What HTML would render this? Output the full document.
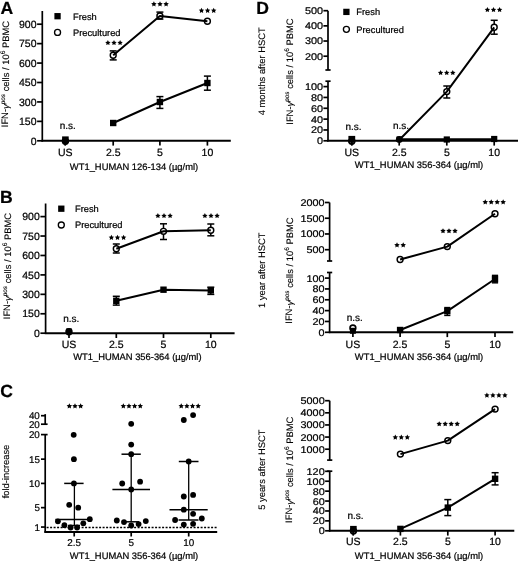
<!DOCTYPE html>
<html><head><meta charset="utf-8"><title>figure</title>
<style>
html,body{margin:0;padding:0;background:#fff;}
svg{display:block;will-change:transform;}
svg text{font-family:"Liberation Sans", sans-serif;fill:#000;text-rendering:geometricPrecision;}
text.rot{stroke-width:0.12px;}
</style></head><body>
<svg width="520" height="562" viewBox="0 0 520 562" stroke="#000" stroke-linecap="butt">
<g stroke="none">
</g>
<text stroke="#000" stroke-width="0.22" x="0.60" y="13.50" font-size="17.6" text-anchor="start" font-weight="bold" >A</text>
<line x1="42.30" y1="11.00" x2="42.30" y2="141.60" stroke-width="1.7" />
<line x1="41.50" y1="140.80" x2="230.80" y2="140.80" stroke-width="2.0" />
<line x1="37.10" y1="140.80" x2="42.30" y2="140.80" stroke-width="1.7" />
<text stroke="#000" stroke-width="0.22" x="36.50" y="144.50" font-size="10.5" text-anchor="end" font-weight="normal" >0</text>
<line x1="37.10" y1="121.37" x2="42.30" y2="121.37" stroke-width="1.7" />
<text stroke="#000" stroke-width="0.22" x="36.50" y="125.07" font-size="10.5" text-anchor="end" font-weight="normal" >150</text>
<line x1="37.10" y1="101.93" x2="42.30" y2="101.93" stroke-width="1.7" />
<text stroke="#000" stroke-width="0.22" x="36.50" y="105.63" font-size="10.5" text-anchor="end" font-weight="normal" >300</text>
<line x1="37.10" y1="82.50" x2="42.30" y2="82.50" stroke-width="1.7" />
<text stroke="#000" stroke-width="0.22" x="36.50" y="86.20" font-size="10.5" text-anchor="end" font-weight="normal" >450</text>
<line x1="37.10" y1="63.07" x2="42.30" y2="63.07" stroke-width="1.7" />
<text stroke="#000" stroke-width="0.22" x="36.50" y="66.77" font-size="10.5" text-anchor="end" font-weight="normal" >600</text>
<line x1="37.10" y1="43.63" x2="42.30" y2="43.63" stroke-width="1.7" />
<text stroke="#000" stroke-width="0.22" x="36.50" y="47.33" font-size="10.5" text-anchor="end" font-weight="normal" >750</text>
<line x1="37.10" y1="24.20" x2="42.30" y2="24.20" stroke-width="1.7" />
<text stroke="#000" stroke-width="0.22" x="36.50" y="27.90" font-size="10.5" text-anchor="end" font-weight="normal" >900</text>
<line x1="65.20" y1="140.80" x2="65.20" y2="145.60" stroke-width="1.7" />
<text stroke="#000" stroke-width="0.22" x="65.20" y="155.80" font-size="10.5" text-anchor="middle" font-weight="normal" >US</text>
<line x1="113.20" y1="140.80" x2="113.20" y2="145.60" stroke-width="1.7" />
<text stroke="#000" stroke-width="0.22" x="113.20" y="155.80" font-size="10.5" text-anchor="middle" font-weight="normal" >2.5</text>
<line x1="159.90" y1="140.80" x2="159.90" y2="145.60" stroke-width="1.7" />
<text stroke="#000" stroke-width="0.22" x="159.90" y="155.80" font-size="10.5" text-anchor="middle" font-weight="normal" >5</text>
<line x1="207.40" y1="140.80" x2="207.40" y2="145.60" stroke-width="1.7" />
<text stroke="#000" stroke-width="0.22" x="207.40" y="155.80" font-size="10.5" text-anchor="middle" font-weight="normal" >10</text>
<text stroke="#000" stroke-width="0.22" x="134.05" y="170.30" font-size="9.4" text-anchor="middle" font-weight="normal" >WT1_HUMAN 126-134 (µg/ml)</text>
<text stroke="#000" stroke-width="0.22" class="rot" transform="translate(4.75,74.10) rotate(-90)" font-size="9.4" text-anchor="middle" dominant-baseline="central">IFN-<tspan font-style="italic">γ</tspan><tspan font-size="6.4" dy="-1.8" font-style="italic">pos</tspan><tspan dy="1.8"> cells / 10</tspan><tspan font-size="6.6" dy="-1.7">6</tspan><tspan dy="1.7"> PBMC</tspan></text>
<rect x="54.40" y="13.05" width="6.3" height="6.3" fill="#000" stroke="none"/>
<text stroke="#000" stroke-width="0.22" x="73.00" y="19.60" font-size="9.3" text-anchor="start" font-weight="normal" >Fresh</text>
<circle cx="57.55" cy="32.40" r="3.0" fill="none" stroke="#000" stroke-width="1.35"/>
<text stroke="#000" stroke-width="0.22" x="73.00" y="35.80" font-size="9.3" text-anchor="start" font-weight="normal" >Precultured</text>
<line x1="159.90" y1="96.60" x2="159.90" y2="108.40" stroke-width="1.5" />
<line x1="156.40" y1="96.60" x2="163.40" y2="96.60" stroke-width="1.5" />
<line x1="156.40" y1="108.40" x2="163.40" y2="108.40" stroke-width="1.5" />
<line x1="207.40" y1="76.10" x2="207.40" y2="90.20" stroke-width="1.5" />
<line x1="203.90" y1="76.10" x2="210.90" y2="76.10" stroke-width="1.5" />
<line x1="203.90" y1="90.20" x2="210.90" y2="90.20" stroke-width="1.5" />
<polyline points="113.20,123.00 159.90,102.00 207.40,83.00" fill="none" stroke-width="2.0" stroke-linejoin="round"/>
<rect x="110.00" y="119.80" width="6.4" height="6.4" fill="#000" stroke="none"/>
<rect x="156.70" y="98.80" width="6.4" height="6.4" fill="#000" stroke="none"/>
<rect x="204.20" y="79.80" width="6.4" height="6.4" fill="#000" stroke="none"/>
<line x1="113.20" y1="50.90" x2="113.20" y2="52.40" stroke-width="1.5" />
<line x1="113.20" y1="58.00" x2="113.20" y2="59.90" stroke-width="1.5" />
<line x1="109.70" y1="50.90" x2="116.70" y2="50.90" stroke-width="1.5" />
<line x1="109.70" y1="59.90" x2="116.70" y2="59.90" stroke-width="1.5" />
<line x1="159.90" y1="12.10" x2="159.90" y2="13.10" stroke-width="1.5" />
<line x1="159.90" y1="18.70" x2="159.90" y2="19.10" stroke-width="1.5" />
<line x1="156.40" y1="12.10" x2="163.40" y2="12.10" stroke-width="1.5" />
<line x1="156.40" y1="19.10" x2="163.40" y2="19.10" stroke-width="1.5" />
<polyline points="113.20,55.20 159.90,15.90 207.40,21.20" fill="none" stroke-width="2.0" stroke-linejoin="round"/>
<circle cx="113.20" cy="55.20" r="2.95" fill="none" stroke="#000" stroke-width="1.45"/>
<circle cx="159.90" cy="15.90" r="2.95" fill="none" stroke="#000" stroke-width="1.45"/>
<circle cx="207.40" cy="21.20" r="2.95" fill="none" stroke="#000" stroke-width="1.45"/>
<polygon points="107.90,39.95 108.74,41.65 110.61,41.92 109.26,43.24 109.58,45.11 107.90,44.22 106.22,45.11 106.54,43.24 105.19,41.92 107.06,41.65" fill="#000" stroke="none"/>
<polygon points="114.00,39.95 114.84,41.65 116.71,41.92 115.36,43.24 115.68,45.11 114.00,44.22 112.32,45.11 112.64,43.24 111.29,41.92 113.16,41.65" fill="#000" stroke="none"/>
<polygon points="120.10,39.95 120.94,41.65 122.81,41.92 121.46,43.24 121.78,45.11 120.10,44.22 118.42,45.11 118.74,43.24 117.39,41.92 119.26,41.65" fill="#000" stroke="none"/>
<polygon points="153.90,1.35 154.74,3.05 156.61,3.32 155.26,4.64 155.58,6.51 153.90,5.62 152.22,6.51 152.54,4.64 151.19,3.32 153.06,3.05" fill="#000" stroke="none"/>
<polygon points="160.00,1.35 160.84,3.05 162.71,3.32 161.36,4.64 161.68,6.51 160.00,5.62 158.32,6.51 158.64,4.64 157.29,3.32 159.16,3.05" fill="#000" stroke="none"/>
<polygon points="166.10,1.35 166.94,3.05 168.81,3.32 167.46,4.64 167.78,6.51 166.10,5.62 164.42,6.51 164.74,4.64 163.39,3.32 165.26,3.05" fill="#000" stroke="none"/>
<polygon points="201.50,7.75 202.34,9.45 204.21,9.72 202.86,11.04 203.18,12.91 201.50,12.03 199.82,12.91 200.14,11.04 198.79,9.72 200.66,9.45" fill="#000" stroke="none"/>
<polygon points="207.60,7.75 208.44,9.45 210.31,9.72 208.96,11.04 209.28,12.91 207.60,12.03 205.92,12.91 206.24,11.04 204.89,9.72 206.76,9.45" fill="#000" stroke="none"/>
<polygon points="213.70,7.75 214.54,9.45 216.41,9.72 215.06,11.04 215.38,12.91 213.70,12.03 212.02,12.91 212.34,11.04 210.99,9.72 212.86,9.45" fill="#000" stroke="none"/>
<text stroke="#000" stroke-width="0.22" x="67.70" y="129.40" font-size="10" text-anchor="middle" font-weight="normal" >n.s.</text>
<rect x="62.10" y="136.40" width="6.6" height="6.6" fill="#000" stroke="none"/>
<circle cx="65.40" cy="141.20" r="2.9" fill="none" stroke="#000" stroke-width="1.6"/>
<line x1="65.40" y1="140.00" x2="65.40" y2="145.20" stroke-width="1.6" />
<text stroke="#000" stroke-width="0.22" x="0.10" y="202.90" font-size="17.6" text-anchor="start" font-weight="bold" >B</text>
<line x1="45.60" y1="203.50" x2="45.60" y2="334.00" stroke-width="1.7" />
<line x1="44.80" y1="333.20" x2="234.60" y2="333.20" stroke-width="2.0" />
<line x1="40.40" y1="333.20" x2="45.60" y2="333.20" stroke-width="1.7" />
<text stroke="#000" stroke-width="0.22" x="39.80" y="336.90" font-size="10.5" text-anchor="end" font-weight="normal" >0</text>
<line x1="40.40" y1="313.77" x2="45.60" y2="313.77" stroke-width="1.7" />
<text stroke="#000" stroke-width="0.22" x="39.80" y="317.47" font-size="10.5" text-anchor="end" font-weight="normal" >150</text>
<line x1="40.40" y1="294.33" x2="45.60" y2="294.33" stroke-width="1.7" />
<text stroke="#000" stroke-width="0.22" x="39.80" y="298.03" font-size="10.5" text-anchor="end" font-weight="normal" >300</text>
<line x1="40.40" y1="274.90" x2="45.60" y2="274.90" stroke-width="1.7" />
<text stroke="#000" stroke-width="0.22" x="39.80" y="278.60" font-size="10.5" text-anchor="end" font-weight="normal" >450</text>
<line x1="40.40" y1="255.47" x2="45.60" y2="255.47" stroke-width="1.7" />
<text stroke="#000" stroke-width="0.22" x="39.80" y="259.17" font-size="10.5" text-anchor="end" font-weight="normal" >600</text>
<line x1="40.40" y1="236.03" x2="45.60" y2="236.03" stroke-width="1.7" />
<text stroke="#000" stroke-width="0.22" x="39.80" y="239.73" font-size="10.5" text-anchor="end" font-weight="normal" >750</text>
<line x1="40.40" y1="216.60" x2="45.60" y2="216.60" stroke-width="1.7" />
<text stroke="#000" stroke-width="0.22" x="39.80" y="220.30" font-size="10.5" text-anchor="end" font-weight="normal" >900</text>
<line x1="69.00" y1="333.20" x2="69.00" y2="338.00" stroke-width="1.7" />
<text stroke="#000" stroke-width="0.22" x="69.00" y="347.60" font-size="10.5" text-anchor="middle" font-weight="normal" >US</text>
<line x1="116.30" y1="333.20" x2="116.30" y2="338.00" stroke-width="1.7" />
<text stroke="#000" stroke-width="0.22" x="116.30" y="347.60" font-size="10.5" text-anchor="middle" font-weight="normal" >2.5</text>
<line x1="163.50" y1="333.20" x2="163.50" y2="338.00" stroke-width="1.7" />
<text stroke="#000" stroke-width="0.22" x="163.50" y="347.60" font-size="10.5" text-anchor="middle" font-weight="normal" >5</text>
<line x1="210.80" y1="333.20" x2="210.80" y2="338.00" stroke-width="1.7" />
<text stroke="#000" stroke-width="0.22" x="210.80" y="347.60" font-size="10.5" text-anchor="middle" font-weight="normal" >10</text>
<text stroke="#000" stroke-width="0.22" x="137.35" y="359.80" font-size="9.4" text-anchor="middle" font-weight="normal" >WT1_HUMAN 356-364 (µg/ml)</text>
<text stroke="#000" stroke-width="0.22" class="rot" transform="translate(6.90,266.10) rotate(-90)" font-size="9.4" text-anchor="middle" dominant-baseline="central">IFN-<tspan font-style="italic">γ</tspan><tspan font-size="6.4" dy="-1.8" font-style="italic">pos</tspan><tspan dy="1.8"> cells / 10</tspan><tspan font-size="6.6" dy="-1.7">6</tspan><tspan dy="1.7"> PBMC</tspan></text>
<rect x="58.15" y="205.55" width="6.3" height="6.3" fill="#000" stroke="none"/>
<text stroke="#000" stroke-width="0.22" x="75.00" y="212.10" font-size="9.3" text-anchor="start" font-weight="normal" >Fresh</text>
<circle cx="61.30" cy="225.00" r="3.0" fill="none" stroke="#000" stroke-width="1.35"/>
<text stroke="#000" stroke-width="0.22" x="75.00" y="228.40" font-size="9.3" text-anchor="start" font-weight="normal" >Precultured</text>
<line x1="116.30" y1="296.30" x2="116.30" y2="305.10" stroke-width="1.5" />
<line x1="112.80" y1="296.30" x2="119.80" y2="296.30" stroke-width="1.5" />
<line x1="112.80" y1="305.10" x2="119.80" y2="305.10" stroke-width="1.5" />
<line x1="210.80" y1="287.20" x2="210.80" y2="294.40" stroke-width="1.5" />
<line x1="207.30" y1="287.20" x2="214.30" y2="287.20" stroke-width="1.5" />
<line x1="207.30" y1="294.40" x2="214.30" y2="294.40" stroke-width="1.5" />
<polyline points="116.30,300.80 163.50,289.70 210.80,290.40" fill="none" stroke-width="2.0" stroke-linejoin="round"/>
<rect x="113.10" y="297.60" width="6.4" height="6.4" fill="#000" stroke="none"/>
<rect x="160.30" y="286.50" width="6.4" height="6.4" fill="#000" stroke="none"/>
<rect x="207.60" y="287.20" width="6.4" height="6.4" fill="#000" stroke="none"/>
<line x1="116.30" y1="244.00" x2="116.30" y2="245.90" stroke-width="1.5" />
<line x1="116.30" y1="251.50" x2="116.30" y2="253.00" stroke-width="1.5" />
<line x1="112.80" y1="244.00" x2="119.80" y2="244.00" stroke-width="1.5" />
<line x1="112.80" y1="253.00" x2="119.80" y2="253.00" stroke-width="1.5" />
<line x1="163.50" y1="223.80" x2="163.50" y2="228.50" stroke-width="1.5" />
<line x1="163.50" y1="234.10" x2="163.50" y2="239.50" stroke-width="1.5" />
<line x1="160.00" y1="223.80" x2="167.00" y2="223.80" stroke-width="1.5" />
<line x1="160.00" y1="239.50" x2="167.00" y2="239.50" stroke-width="1.5" />
<line x1="210.80" y1="224.00" x2="210.80" y2="227.40" stroke-width="1.5" />
<line x1="210.80" y1="233.00" x2="210.80" y2="235.80" stroke-width="1.5" />
<line x1="207.30" y1="224.00" x2="214.30" y2="224.00" stroke-width="1.5" />
<line x1="207.30" y1="235.80" x2="214.30" y2="235.80" stroke-width="1.5" />
<polyline points="116.30,248.70 163.50,231.30 210.80,230.20" fill="none" stroke-width="2.0" stroke-linejoin="round"/>
<circle cx="116.30" cy="248.70" r="2.95" fill="none" stroke="#000" stroke-width="1.45"/>
<circle cx="163.50" cy="231.30" r="2.95" fill="none" stroke="#000" stroke-width="1.45"/>
<circle cx="210.80" cy="230.20" r="2.95" fill="none" stroke="#000" stroke-width="1.45"/>
<polygon points="111.40,234.75 112.24,236.45 114.11,236.72 112.76,238.04 113.08,239.91 111.40,239.03 109.72,239.91 110.04,238.04 108.69,236.72 110.56,236.45" fill="#000" stroke="none"/>
<polygon points="117.50,234.75 118.34,236.45 120.21,236.72 118.86,238.04 119.18,239.91 117.50,239.03 115.82,239.91 116.14,238.04 114.79,236.72 116.66,236.45" fill="#000" stroke="none"/>
<polygon points="123.60,234.75 124.44,236.45 126.31,236.72 124.96,238.04 125.28,239.91 123.60,239.03 121.92,239.91 122.24,238.04 120.89,236.72 122.76,236.45" fill="#000" stroke="none"/>
<polygon points="157.90,212.95 158.74,214.65 160.61,214.92 159.26,216.24 159.58,218.11 157.90,217.23 156.22,218.11 156.54,216.24 155.19,214.92 157.06,214.65" fill="#000" stroke="none"/>
<polygon points="164.00,212.95 164.84,214.65 166.71,214.92 165.36,216.24 165.68,218.11 164.00,217.23 162.32,218.11 162.64,216.24 161.29,214.92 163.16,214.65" fill="#000" stroke="none"/>
<polygon points="170.10,212.95 170.94,214.65 172.81,214.92 171.46,216.24 171.78,218.11 170.10,217.23 168.42,218.11 168.74,216.24 167.39,214.92 169.26,214.65" fill="#000" stroke="none"/>
<polygon points="204.90,212.95 205.74,214.65 207.61,214.92 206.26,216.24 206.58,218.11 204.90,217.23 203.22,218.11 203.54,216.24 202.19,214.92 204.06,214.65" fill="#000" stroke="none"/>
<polygon points="211.00,212.95 211.84,214.65 213.71,214.92 212.36,216.24 212.68,218.11 211.00,217.23 209.32,218.11 209.64,216.24 208.29,214.92 210.16,214.65" fill="#000" stroke="none"/>
<polygon points="217.10,212.95 217.94,214.65 219.81,214.92 218.46,216.24 218.78,218.11 217.10,217.23 215.42,218.11 215.74,216.24 214.39,214.92 216.26,214.65" fill="#000" stroke="none"/>
<text stroke="#000" stroke-width="0.22" x="71.20" y="321.60" font-size="10" text-anchor="middle" font-weight="normal" >n.s.</text>
<rect x="66.20" y="328.40" width="5.6" height="5.6" fill="#000" stroke="none"/>
<circle cx="69.00" cy="331.80" r="3.7" fill="#000" stroke="none"/>
<text stroke="#000" stroke-width="0.22" x="0.30" y="396.60" font-size="17.6" text-anchor="start" font-weight="bold" >C</text>
<line x1="45.20" y1="414.10" x2="45.20" y2="424.50" stroke-width="1.7" />
<line x1="41.00" y1="415.70" x2="45.20" y2="415.70" stroke-width="1.7" />
<line x1="41.00" y1="424.20" x2="47.60" y2="424.20" stroke-width="1.7" />
<text stroke="#000" stroke-width="0.22" x="39.80" y="419.00" font-size="9.8" text-anchor="end" font-weight="normal" >40</text>
<text stroke="#000" stroke-width="0.22" x="39.80" y="427.60" font-size="9.8" text-anchor="end" font-weight="normal" >20</text>
<line x1="45.20" y1="434.60" x2="45.20" y2="532.70" stroke-width="1.7" />
<line x1="41.00" y1="434.60" x2="47.60" y2="434.60" stroke-width="1.7" />
<text stroke="#000" stroke-width="0.22" x="39.80" y="437.80" font-size="9.8" text-anchor="end" font-weight="normal" >20</text>
<line x1="41.00" y1="459.15" x2="45.20" y2="459.15" stroke-width="1.7" />
<text stroke="#000" stroke-width="0.22" x="39.90" y="462.70" font-size="9.8" text-anchor="end" font-weight="normal" >15</text>
<line x1="41.00" y1="483.40" x2="45.20" y2="483.40" stroke-width="1.7" />
<text stroke="#000" stroke-width="0.22" x="39.90" y="486.95" font-size="9.8" text-anchor="end" font-weight="normal" >10</text>
<line x1="41.00" y1="507.65" x2="45.20" y2="507.65" stroke-width="1.7" />
<text stroke="#000" stroke-width="0.22" x="39.90" y="511.20" font-size="9.8" text-anchor="end" font-weight="normal" >5</text>
<line x1="41.00" y1="527.05" x2="45.20" y2="527.05" stroke-width="1.7" />
<text stroke="#000" stroke-width="0.22" x="39.90" y="530.60" font-size="9.8" text-anchor="end" font-weight="normal" >1</text>
<line x1="44.40" y1="531.90" x2="217.20" y2="531.90" stroke-width="2.0" />
<line x1="46.20" y1="527.5" x2="217.2" y2="527.5" stroke-width="1.35" stroke-dasharray="2.0,1.5" stroke-dashoffset="-0.4"/>
<line x1="74.20" y1="531.90" x2="74.20" y2="536.50" stroke-width="1.7" />
<text stroke="#000" stroke-width="0.22" x="74.20" y="545.70" font-size="9.9" text-anchor="middle" font-weight="normal" >2.5</text>
<line x1="131.20" y1="531.90" x2="131.20" y2="536.50" stroke-width="1.7" />
<text stroke="#000" stroke-width="0.22" x="131.20" y="545.70" font-size="9.9" text-anchor="middle" font-weight="normal" >5</text>
<line x1="188.70" y1="531.90" x2="188.70" y2="536.50" stroke-width="1.7" />
<text stroke="#000" stroke-width="0.22" x="188.70" y="545.70" font-size="9.9" text-anchor="middle" font-weight="normal" >10</text>
<text stroke="#000" stroke-width="0.22" x="134.05" y="558.90" font-size="9.4" text-anchor="middle" font-weight="normal" >WT1_HUMAN 356-364 (µg/ml)</text>
<text stroke="#000" stroke-width="0.22" class="rot" transform="translate(5.25,471.5) rotate(-90)" font-size="9.4" text-anchor="middle" dominant-baseline="central">fold-increase</text>
<line x1="74.40" y1="483.40" x2="74.40" y2="525.50" stroke-width="1.3" />
<line x1="64.20" y1="483.40" x2="83.60" y2="483.40" stroke-width="1.5" />
<line x1="55.40" y1="519.50" x2="91.00" y2="519.50" stroke-width="1.5" />
<line x1="68.00" y1="525.50" x2="80.00" y2="525.50" stroke-width="1.5" />
<circle cx="73.70" cy="434.80" r="2.9" fill="#000" stroke="none"/>
<circle cx="73.90" cy="459.20" r="2.9" fill="#000" stroke="none"/>
<circle cx="73.90" cy="483.40" r="2.9" fill="#000" stroke="none"/>
<circle cx="69.20" cy="504.80" r="2.9" fill="#000" stroke="none"/>
<circle cx="78.20" cy="507.70" r="2.9" fill="#000" stroke="none"/>
<circle cx="57.90" cy="521.30" r="2.9" fill="#000" stroke="none"/>
<circle cx="89.80" cy="519.20" r="2.9" fill="#000" stroke="none"/>
<circle cx="64.40" cy="525.20" r="2.9" fill="#000" stroke="none"/>
<circle cx="70.60" cy="527.50" r="2.9" fill="#000" stroke="none"/>
<circle cx="77.10" cy="527.50" r="2.9" fill="#000" stroke="none"/>
<circle cx="83.30" cy="523.30" r="2.9" fill="#000" stroke="none"/>
<line x1="131.20" y1="454.20" x2="131.20" y2="521.80" stroke-width="1.3" />
<line x1="121.50" y1="454.20" x2="140.80" y2="454.20" stroke-width="1.5" />
<line x1="112.40" y1="489.50" x2="150.00" y2="489.50" stroke-width="1.5" />
<line x1="125.00" y1="521.80" x2="139.00" y2="521.80" stroke-width="1.5" />
<circle cx="131.20" cy="423.80" r="2.9" fill="#000" stroke="none"/>
<circle cx="131.20" cy="444.60" r="2.9" fill="#000" stroke="none"/>
<circle cx="131.20" cy="454.20" r="2.9" fill="#000" stroke="none"/>
<circle cx="122.20" cy="483.50" r="2.9" fill="#000" stroke="none"/>
<circle cx="140.10" cy="481.70" r="2.9" fill="#000" stroke="none"/>
<circle cx="131.20" cy="489.50" r="2.9" fill="#000" stroke="none"/>
<circle cx="116.80" cy="520.50" r="2.9" fill="#000" stroke="none"/>
<circle cx="124.00" cy="522.10" r="2.9" fill="#000" stroke="none"/>
<circle cx="131.20" cy="525.50" r="2.9" fill="#000" stroke="none"/>
<circle cx="138.60" cy="524.10" r="2.9" fill="#000" stroke="none"/>
<circle cx="145.80" cy="521.10" r="2.9" fill="#000" stroke="none"/>
<line x1="188.70" y1="461.50" x2="188.70" y2="520.00" stroke-width="1.3" />
<line x1="178.80" y1="461.50" x2="198.50" y2="461.50" stroke-width="1.5" />
<line x1="169.50" y1="509.70" x2="207.70" y2="509.70" stroke-width="1.5" />
<line x1="178.50" y1="520.00" x2="198.50" y2="520.00" stroke-width="1.5" />
<circle cx="183.80" cy="420.00" r="2.9" fill="#000" stroke="none"/>
<circle cx="193.10" cy="415.10" r="2.9" fill="#000" stroke="none"/>
<circle cx="188.70" cy="461.50" r="2.9" fill="#000" stroke="none"/>
<circle cx="183.80" cy="496.50" r="2.9" fill="#000" stroke="none"/>
<circle cx="193.10" cy="494.90" r="2.9" fill="#000" stroke="none"/>
<circle cx="183.80" cy="509.70" r="2.9" fill="#000" stroke="none"/>
<circle cx="193.10" cy="513.80" r="2.9" fill="#000" stroke="none"/>
<circle cx="175.10" cy="520.00" r="2.9" fill="#000" stroke="none"/>
<circle cx="201.80" cy="518.50" r="2.9" fill="#000" stroke="none"/>
<circle cx="183.80" cy="524.60" r="2.9" fill="#000" stroke="none"/>
<circle cx="193.10" cy="523.80" r="2.9" fill="#000" stroke="none"/>
<polygon points="69.35,403.35 70.19,405.05 72.06,405.32 70.71,406.64 71.03,408.51 69.35,407.62 67.67,408.51 67.99,406.64 66.64,405.32 68.51,405.05" fill="#000" stroke="none"/>
<polygon points="75.00,403.35 75.84,405.05 77.71,405.32 76.36,406.64 76.68,408.51 75.00,407.62 73.32,408.51 73.64,406.64 72.29,405.32 74.16,405.05" fill="#000" stroke="none"/>
<polygon points="80.65,403.35 81.49,405.05 83.36,405.32 82.01,406.64 82.33,408.51 80.65,407.62 78.97,408.51 79.29,406.64 77.94,405.32 79.81,405.05" fill="#000" stroke="none"/>
<polygon points="123.33,403.25 124.16,404.95 126.04,405.22 124.68,406.54 125.00,408.41 123.33,407.53 121.65,408.41 121.97,406.54 120.61,405.22 122.49,404.95" fill="#000" stroke="none"/>
<polygon points="128.98,403.25 129.81,404.95 131.69,405.22 130.33,406.54 130.65,408.41 128.98,407.53 127.30,408.41 127.62,406.54 126.26,405.22 128.14,404.95" fill="#000" stroke="none"/>
<polygon points="134.63,403.25 135.46,404.95 137.34,405.22 135.98,406.54 136.30,408.41 134.63,407.53 132.95,408.41 133.27,406.54 131.91,405.22 133.79,404.95" fill="#000" stroke="none"/>
<polygon points="140.28,403.25 141.11,404.95 142.99,405.22 141.63,406.54 141.95,408.41 140.28,407.53 138.60,408.41 138.92,406.54 137.56,405.22 139.44,404.95" fill="#000" stroke="none"/>
<polygon points="181.22,403.25 182.06,404.95 183.94,405.22 182.58,406.54 182.90,408.41 181.22,407.53 179.55,408.41 179.87,406.54 178.51,405.22 180.39,404.95" fill="#000" stroke="none"/>
<polygon points="186.88,403.25 187.71,404.95 189.59,405.22 188.23,406.54 188.55,408.41 186.88,407.53 185.20,408.41 185.52,406.54 184.16,405.22 186.04,404.95" fill="#000" stroke="none"/>
<polygon points="192.53,403.25 193.36,404.95 195.24,405.22 193.88,406.54 194.20,408.41 192.53,407.53 190.85,408.41 191.17,406.54 189.81,405.22 191.69,404.95" fill="#000" stroke="none"/>
<polygon points="198.18,403.25 199.01,404.95 200.89,405.22 199.53,406.54 199.85,408.41 198.18,407.53 196.50,408.41 196.82,406.54 195.46,405.22 197.34,404.95" fill="#000" stroke="none"/>
<text stroke="#000" stroke-width="0.22" x="256.30" y="13.80" font-size="17.6" text-anchor="start" font-weight="bold" >D</text>
<line x1="328.00" y1="10.70" x2="328.00" y2="70.00" stroke-width="1.7" />
<line x1="325.40" y1="70.00" x2="330.60" y2="70.00" stroke-width="1.7" />
<line x1="323.40" y1="10.70" x2="328.00" y2="10.70" stroke-width="1.7" />
<text stroke="#000" stroke-width="0.22" transform="translate(323.00,14.15) scale(1.12,1)" x="0" y="0" font-size="9.7" text-anchor="end" font-weight="normal" >500</text>
<line x1="323.40" y1="25.87" x2="328.00" y2="25.87" stroke-width="1.7" />
<text stroke="#000" stroke-width="0.22" transform="translate(323.00,29.32) scale(1.12,1)" x="0" y="0" font-size="9.7" text-anchor="end" font-weight="normal" >400</text>
<line x1="323.40" y1="41.03" x2="328.00" y2="41.03" stroke-width="1.7" />
<text stroke="#000" stroke-width="0.22" transform="translate(323.00,44.48) scale(1.12,1)" x="0" y="0" font-size="9.7" text-anchor="end" font-weight="normal" >300</text>
<line x1="323.40" y1="56.20" x2="328.00" y2="56.20" stroke-width="1.7" />
<text stroke="#000" stroke-width="0.22" transform="translate(323.00,59.65) scale(1.12,1)" x="0" y="0" font-size="9.7" text-anchor="end" font-weight="normal" >200</text>
<line x1="328.00" y1="81.20" x2="328.00" y2="141.60" stroke-width="1.7" />
<line x1="325.40" y1="81.20" x2="330.60" y2="81.20" stroke-width="1.7" />
<line x1="323.40" y1="86.60" x2="328.00" y2="86.60" stroke-width="1.7" />
<text stroke="#000" stroke-width="0.22" transform="translate(323.00,90.05) scale(1.12,1)" x="0" y="0" font-size="9.7" text-anchor="end" font-weight="normal" >100</text>
<line x1="323.40" y1="97.44" x2="328.00" y2="97.44" stroke-width="1.7" />
<text stroke="#000" stroke-width="0.22" transform="translate(323.00,100.89) scale(1.12,1)" x="0" y="0" font-size="9.7" text-anchor="end" font-weight="normal" >80</text>
<line x1="323.40" y1="108.28" x2="328.00" y2="108.28" stroke-width="1.7" />
<text stroke="#000" stroke-width="0.22" transform="translate(323.00,111.73) scale(1.12,1)" x="0" y="0" font-size="9.7" text-anchor="end" font-weight="normal" >60</text>
<line x1="323.40" y1="119.12" x2="328.00" y2="119.12" stroke-width="1.7" />
<text stroke="#000" stroke-width="0.22" transform="translate(323.00,122.57) scale(1.12,1)" x="0" y="0" font-size="9.7" text-anchor="end" font-weight="normal" >40</text>
<line x1="323.40" y1="129.96" x2="328.00" y2="129.96" stroke-width="1.7" />
<text stroke="#000" stroke-width="0.22" transform="translate(323.00,133.41) scale(1.12,1)" x="0" y="0" font-size="9.7" text-anchor="end" font-weight="normal" >20</text>
<line x1="323.40" y1="140.80" x2="328.00" y2="140.80" stroke-width="1.7" />
<text stroke="#000" stroke-width="0.22" transform="translate(323.00,144.25) scale(1.12,1)" x="0" y="0" font-size="9.7" text-anchor="end" font-weight="normal" >0</text>
<line x1="327.20" y1="140.80" x2="518.00" y2="140.80" stroke-width="2.0" />
<line x1="351.80" y1="140.80" x2="351.80" y2="145.60" stroke-width="1.7" />
<text stroke="#000" stroke-width="0.22" x="351.80" y="155.60" font-size="10.5" text-anchor="middle" font-weight="normal" >US</text>
<line x1="399.20" y1="140.80" x2="399.20" y2="145.60" stroke-width="1.7" />
<text stroke="#000" stroke-width="0.22" x="399.20" y="155.60" font-size="10.5" text-anchor="middle" font-weight="normal" >2.5</text>
<line x1="446.80" y1="140.80" x2="446.80" y2="145.60" stroke-width="1.7" />
<text stroke="#000" stroke-width="0.22" x="446.80" y="155.60" font-size="10.5" text-anchor="middle" font-weight="normal" >5</text>
<line x1="494.20" y1="140.80" x2="494.20" y2="145.60" stroke-width="1.7" />
<text stroke="#000" stroke-width="0.22" x="494.20" y="155.60" font-size="10.5" text-anchor="middle" font-weight="normal" >10</text>
<text stroke="#000" stroke-width="0.22" x="419.05" y="167.80" font-size="9.4" text-anchor="middle" font-weight="normal" >WT1_HUMAN 356-364 (µg/ml)</text>
<text stroke="#000" stroke-width="0.22" class="rot" transform="translate(289.05,71.60) rotate(-90)" font-size="9.4" text-anchor="middle" dominant-baseline="central">IFN-<tspan font-style="italic">γ</tspan><tspan font-size="6.4" dy="-1.8" font-style="italic">pos</tspan><tspan dy="1.8"> cells / 10</tspan><tspan font-size="6.6" dy="-1.7">6</tspan><tspan dy="1.7"> PBMC</tspan></text>
<text stroke="#000" stroke-width="0.22" class="rot" transform="translate(261.20,71.25) rotate(-90)" font-size="9.4" text-anchor="middle" dominant-baseline="central">4 months after HSCT</text>
<rect x="343.25" y="8.75" width="6.3" height="6.3" fill="#000" stroke="none"/>
<text stroke="#000" stroke-width="0.22" x="356.30" y="15.30" font-size="9.3" text-anchor="start" font-weight="normal" >Fresh</text>
<circle cx="346.40" cy="29.30" r="3.0" fill="none" stroke="#000" stroke-width="1.35"/>
<text stroke="#000" stroke-width="0.22" x="356.30" y="32.70" font-size="9.3" text-anchor="start" font-weight="normal" >Precultured</text>
<polyline points="399.20,139.50 446.80,139.50 494.20,139.50" fill="none" stroke-width="2.6" stroke-linejoin="round"/>
<rect x="443.70" y="136.40" width="6.2" height="6.2" fill="#000" stroke="none"/>
<rect x="491.10" y="135.90" width="6.2" height="6.2" fill="#000" stroke="none"/>
<rect x="396.50" y="136.50" width="5.4" height="5.4" fill="#000" stroke="none"/>
<line x1="446.80" y1="86.00" x2="446.80" y2="88.80" stroke-width="1.5" />
<line x1="446.80" y1="94.40" x2="446.80" y2="98.00" stroke-width="1.5" />
<line x1="443.30" y1="86.00" x2="450.30" y2="86.00" stroke-width="1.5" />
<line x1="443.30" y1="98.00" x2="450.30" y2="98.00" stroke-width="1.5" />
<line x1="494.20" y1="20.30" x2="494.20" y2="24.50" stroke-width="1.5" />
<line x1="494.20" y1="30.10" x2="494.20" y2="34.20" stroke-width="1.5" />
<line x1="490.70" y1="20.30" x2="497.70" y2="20.30" stroke-width="1.5" />
<line x1="490.70" y1="34.20" x2="497.70" y2="34.20" stroke-width="1.5" />
<polyline points="399.20,140.00 446.80,91.60 494.20,27.30" fill="none" stroke-width="2.0" stroke-linejoin="round"/>
<circle cx="446.80" cy="91.60" r="2.95" fill="none" stroke="#000" stroke-width="1.45"/>
<circle cx="494.20" cy="27.30" r="2.95" fill="none" stroke="#000" stroke-width="1.45"/>
<polygon points="440.60,69.95 441.44,71.65 443.31,71.92 441.96,73.24 442.28,75.11 440.60,74.22 438.92,75.11 439.24,73.24 437.89,71.92 439.76,71.65" fill="#000" stroke="none"/>
<polygon points="446.70,69.95 447.54,71.65 449.41,71.92 448.06,73.24 448.38,75.11 446.70,74.22 445.02,75.11 445.34,73.24 443.99,71.92 445.86,71.65" fill="#000" stroke="none"/>
<polygon points="452.80,69.95 453.64,71.65 455.51,71.92 454.16,73.24 454.48,75.11 452.80,74.22 451.12,75.11 451.44,73.24 450.09,71.92 451.96,71.65" fill="#000" stroke="none"/>
<polygon points="487.40,6.95 488.24,8.65 490.11,8.92 488.76,10.24 489.08,12.11 487.40,11.23 485.72,12.11 486.04,10.24 484.69,8.92 486.56,8.65" fill="#000" stroke="none"/>
<polygon points="493.50,6.95 494.34,8.65 496.21,8.92 494.86,10.24 495.18,12.11 493.50,11.23 491.82,12.11 492.14,10.24 490.79,8.92 492.66,8.65" fill="#000" stroke="none"/>
<polygon points="499.60,6.95 500.44,8.65 502.31,8.92 500.96,10.24 501.28,12.11 499.60,11.23 497.92,12.11 498.24,10.24 496.89,8.92 498.76,8.65" fill="#000" stroke="none"/>
<text stroke="#000" stroke-width="0.22" x="353.60" y="129.60" font-size="10" text-anchor="middle" font-weight="normal" >n.s.</text>
<text stroke="#000" stroke-width="0.22" x="401.00" y="129.30" font-size="10" text-anchor="middle" font-weight="normal" >n.s.</text>
<rect x="348.40" y="135.90" width="6.8" height="6.8" fill="#000" stroke="none"/>
<circle cx="351.80" cy="141.20" r="2.9" fill="none" stroke="#000" stroke-width="1.6"/>
<line x1="351.80" y1="140.00" x2="351.80" y2="145.20" stroke-width="1.6" />
<circle cx="399.30" cy="139.40" r="3.4" fill="#000" stroke="none"/>
<line x1="329.60" y1="202.50" x2="329.60" y2="261.00" stroke-width="1.7" />
<line x1="327.00" y1="261.00" x2="332.20" y2="261.00" stroke-width="1.7" />
<line x1="325.00" y1="202.50" x2="329.60" y2="202.50" stroke-width="1.7" />
<text stroke="#000" stroke-width="0.22" transform="translate(324.60,205.95) scale(1.12,1)" x="0" y="0" font-size="9.7" text-anchor="end" font-weight="normal" >2000</text>
<line x1="325.00" y1="218.23" x2="329.60" y2="218.23" stroke-width="1.7" />
<text stroke="#000" stroke-width="0.22" transform="translate(324.60,221.68) scale(1.12,1)" x="0" y="0" font-size="9.7" text-anchor="end" font-weight="normal" >1500</text>
<line x1="325.00" y1="233.97" x2="329.60" y2="233.97" stroke-width="1.7" />
<text stroke="#000" stroke-width="0.22" transform="translate(324.60,237.42) scale(1.12,1)" x="0" y="0" font-size="9.7" text-anchor="end" font-weight="normal" >1000</text>
<line x1="325.00" y1="249.70" x2="329.60" y2="249.70" stroke-width="1.7" />
<text stroke="#000" stroke-width="0.22" transform="translate(324.60,253.15) scale(1.12,1)" x="0" y="0" font-size="9.7" text-anchor="end" font-weight="normal" >500</text>
<line x1="329.60" y1="272.50" x2="329.60" y2="333.10" stroke-width="1.7" />
<line x1="327.00" y1="272.50" x2="332.20" y2="272.50" stroke-width="1.7" />
<line x1="325.00" y1="278.10" x2="329.60" y2="278.10" stroke-width="1.7" />
<text stroke="#000" stroke-width="0.22" transform="translate(324.60,281.55) scale(1.12,1)" x="0" y="0" font-size="9.7" text-anchor="end" font-weight="normal" >100</text>
<line x1="325.00" y1="288.94" x2="329.60" y2="288.94" stroke-width="1.7" />
<text stroke="#000" stroke-width="0.22" transform="translate(324.60,292.39) scale(1.12,1)" x="0" y="0" font-size="9.7" text-anchor="end" font-weight="normal" >80</text>
<line x1="325.00" y1="299.78" x2="329.60" y2="299.78" stroke-width="1.7" />
<text stroke="#000" stroke-width="0.22" transform="translate(324.60,303.23) scale(1.12,1)" x="0" y="0" font-size="9.7" text-anchor="end" font-weight="normal" >60</text>
<line x1="325.00" y1="310.62" x2="329.60" y2="310.62" stroke-width="1.7" />
<text stroke="#000" stroke-width="0.22" transform="translate(324.60,314.07) scale(1.12,1)" x="0" y="0" font-size="9.7" text-anchor="end" font-weight="normal" >40</text>
<line x1="325.00" y1="321.46" x2="329.60" y2="321.46" stroke-width="1.7" />
<text stroke="#000" stroke-width="0.22" transform="translate(324.60,324.91) scale(1.12,1)" x="0" y="0" font-size="9.7" text-anchor="end" font-weight="normal" >20</text>
<line x1="325.00" y1="332.30" x2="329.60" y2="332.30" stroke-width="1.7" />
<text stroke="#000" stroke-width="0.22" transform="translate(324.60,335.75) scale(1.12,1)" x="0" y="0" font-size="9.7" text-anchor="end" font-weight="normal" >0</text>
<line x1="328.80" y1="332.30" x2="513.20" y2="332.30" stroke-width="2.0" />
<line x1="352.90" y1="332.30" x2="352.90" y2="337.10" stroke-width="1.7" />
<text stroke="#000" stroke-width="0.22" x="352.90" y="347.70" font-size="10.5" text-anchor="middle" font-weight="normal" >US</text>
<line x1="400.10" y1="332.30" x2="400.10" y2="337.10" stroke-width="1.7" />
<text stroke="#000" stroke-width="0.22" x="400.10" y="347.70" font-size="10.5" text-anchor="middle" font-weight="normal" >2.5</text>
<line x1="447.30" y1="332.30" x2="447.30" y2="337.10" stroke-width="1.7" />
<text stroke="#000" stroke-width="0.22" x="447.30" y="347.70" font-size="10.5" text-anchor="middle" font-weight="normal" >5</text>
<line x1="495.00" y1="332.30" x2="495.00" y2="337.10" stroke-width="1.7" />
<text stroke="#000" stroke-width="0.22" x="495.00" y="347.70" font-size="10.5" text-anchor="middle" font-weight="normal" >10</text>
<text stroke="#000" stroke-width="0.22" x="419.05" y="359.60" font-size="9.4" text-anchor="middle" font-weight="normal" >WT1_HUMAN 356-364 (µg/ml)</text>
<text stroke="#000" stroke-width="0.22" class="rot" transform="translate(288.55,270.60) rotate(-90)" font-size="9.4" text-anchor="middle" dominant-baseline="central">IFN-<tspan font-style="italic">γ</tspan><tspan font-size="6.4" dy="-1.8" font-style="italic">pos</tspan><tspan dy="1.8"> cells / 10</tspan><tspan font-size="6.6" dy="-1.7">6</tspan><tspan dy="1.7"> PBMC</tspan></text>
<text stroke="#000" stroke-width="0.22" class="rot" transform="translate(261.55,270.20) rotate(-90)" font-size="9.4" text-anchor="middle" dominant-baseline="central">1 year after HSCT</text>
<line x1="447.30" y1="307.60" x2="447.30" y2="315.40" stroke-width="1.5" />
<line x1="444.20" y1="307.60" x2="450.40" y2="307.60" stroke-width="1.5" />
<line x1="444.20" y1="315.40" x2="450.40" y2="315.40" stroke-width="1.5" />
<line x1="495.00" y1="275.40" x2="495.00" y2="282.80" stroke-width="1.5" />
<line x1="491.90" y1="275.40" x2="498.10" y2="275.40" stroke-width="1.5" />
<line x1="491.90" y1="282.80" x2="498.10" y2="282.80" stroke-width="1.5" />
<polyline points="400.10,330.00 447.30,311.10 495.00,279.00" fill="none" stroke-width="2.0" stroke-linejoin="round"/>
<rect x="396.90" y="326.80" width="6.4" height="6.4" fill="#000" stroke="none"/>
<rect x="444.10" y="307.90" width="6.4" height="6.4" fill="#000" stroke="none"/>
<rect x="491.80" y="275.80" width="6.4" height="6.4" fill="#000" stroke="none"/>
<polyline points="400.10,259.50 447.30,246.60 495.00,213.70" fill="none" stroke-width="2.0" stroke-linejoin="round"/>
<circle cx="400.10" cy="259.50" r="2.95" fill="none" stroke="#000" stroke-width="1.45"/>
<circle cx="447.30" cy="246.60" r="2.95" fill="none" stroke="#000" stroke-width="1.45"/>
<circle cx="495.00" cy="213.70" r="2.95" fill="none" stroke="#000" stroke-width="1.45"/>
<polygon points="397.00,242.35 397.84,244.05 399.71,244.32 398.36,245.64 398.68,247.51 397.00,246.62 395.32,247.51 395.64,245.64 394.29,244.32 396.16,244.05" fill="#000" stroke="none"/>
<polygon points="403.20,242.35 404.04,244.05 405.91,244.32 404.56,245.64 404.88,247.51 403.20,246.62 401.52,247.51 401.84,245.64 400.49,244.32 402.36,244.05" fill="#000" stroke="none"/>
<polygon points="443.00,228.15 443.84,229.85 445.71,230.12 444.36,231.44 444.68,233.31 443.00,232.43 441.32,233.31 441.64,231.44 440.29,230.12 442.16,229.85" fill="#000" stroke="none"/>
<polygon points="449.00,228.15 449.84,229.85 451.71,230.12 450.36,231.44 450.68,233.31 449.00,232.43 447.32,233.31 447.64,231.44 446.29,230.12 448.16,229.85" fill="#000" stroke="none"/>
<polygon points="455.00,228.15 455.84,229.85 457.71,230.12 456.36,231.44 456.68,233.31 455.00,232.43 453.32,233.31 453.64,231.44 452.29,230.12 454.16,229.85" fill="#000" stroke="none"/>
<polygon points="485.25,199.35 486.08,201.05 487.96,201.32 486.60,202.64 486.92,204.51 485.25,203.62 483.57,204.51 483.89,202.64 482.53,201.32 484.41,201.05" fill="#000" stroke="none"/>
<polygon points="491.22,199.35 492.05,201.05 493.93,201.32 492.57,202.64 492.89,204.51 491.22,203.62 489.54,204.51 489.86,202.64 488.50,201.32 490.38,201.05" fill="#000" stroke="none"/>
<polygon points="497.19,199.35 498.02,201.05 499.90,201.32 498.54,202.64 498.86,204.51 497.19,203.62 495.51,204.51 495.83,202.64 494.47,201.32 496.35,201.05" fill="#000" stroke="none"/>
<polygon points="503.16,199.35 503.99,201.05 505.87,201.32 504.51,202.64 504.83,204.51 503.16,203.62 501.48,204.51 501.80,202.64 500.44,201.32 502.32,201.05" fill="#000" stroke="none"/>
<text stroke="#000" stroke-width="0.22" x="354.80" y="321.00" font-size="10" text-anchor="middle" font-weight="normal" >n.s.</text>
<rect x="349.90" y="327.80" width="6.0" height="6.0" fill="#000" stroke="none"/>
<circle cx="352.90" cy="328.00" r="2.9" fill="none" stroke="#000" stroke-width="1.6"/>
<line x1="329.70" y1="400.70" x2="329.70" y2="460.10" stroke-width="1.7" />
<line x1="327.10" y1="460.10" x2="332.30" y2="460.10" stroke-width="1.7" />
<line x1="325.10" y1="400.70" x2="329.70" y2="400.70" stroke-width="1.7" />
<text stroke="#000" stroke-width="0.22" transform="translate(324.70,404.15) scale(1.12,1)" x="0" y="0" font-size="9.7" text-anchor="end" font-weight="normal" >5000</text>
<line x1="325.10" y1="412.82" x2="329.70" y2="412.82" stroke-width="1.7" />
<text stroke="#000" stroke-width="0.22" transform="translate(324.70,416.27) scale(1.12,1)" x="0" y="0" font-size="9.7" text-anchor="end" font-weight="normal" >4000</text>
<line x1="325.10" y1="424.95" x2="329.70" y2="424.95" stroke-width="1.7" />
<text stroke="#000" stroke-width="0.22" transform="translate(324.70,428.40) scale(1.12,1)" x="0" y="0" font-size="9.7" text-anchor="end" font-weight="normal" >3000</text>
<line x1="325.10" y1="437.07" x2="329.70" y2="437.07" stroke-width="1.7" />
<text stroke="#000" stroke-width="0.22" transform="translate(324.70,440.52) scale(1.12,1)" x="0" y="0" font-size="9.7" text-anchor="end" font-weight="normal" >2000</text>
<line x1="325.10" y1="449.20" x2="329.70" y2="449.20" stroke-width="1.7" />
<text stroke="#000" stroke-width="0.22" transform="translate(324.70,452.65) scale(1.12,1)" x="0" y="0" font-size="9.7" text-anchor="end" font-weight="normal" >1000</text>
<line x1="329.70" y1="471.20" x2="329.70" y2="531.60" stroke-width="1.7" />
<line x1="327.10" y1="471.20" x2="332.30" y2="471.20" stroke-width="1.7" />
<line x1="325.10" y1="471.30" x2="329.70" y2="471.30" stroke-width="1.7" />
<text stroke="#000" stroke-width="0.22" transform="translate(324.70,474.75) scale(1.12,1)" x="0" y="0" font-size="9.7" text-anchor="end" font-weight="normal" >120</text>
<line x1="325.10" y1="481.22" x2="329.70" y2="481.22" stroke-width="1.7" />
<text stroke="#000" stroke-width="0.22" transform="translate(324.70,484.67) scale(1.12,1)" x="0" y="0" font-size="9.7" text-anchor="end" font-weight="normal" >100</text>
<line x1="325.10" y1="491.13" x2="329.70" y2="491.13" stroke-width="1.7" />
<text stroke="#000" stroke-width="0.22" transform="translate(324.70,494.58) scale(1.12,1)" x="0" y="0" font-size="9.7" text-anchor="end" font-weight="normal" >80</text>
<line x1="325.10" y1="501.05" x2="329.70" y2="501.05" stroke-width="1.7" />
<text stroke="#000" stroke-width="0.22" transform="translate(324.70,504.50) scale(1.12,1)" x="0" y="0" font-size="9.7" text-anchor="end" font-weight="normal" >60</text>
<line x1="325.10" y1="510.97" x2="329.70" y2="510.97" stroke-width="1.7" />
<text stroke="#000" stroke-width="0.22" transform="translate(324.70,514.42) scale(1.12,1)" x="0" y="0" font-size="9.7" text-anchor="end" font-weight="normal" >40</text>
<line x1="325.10" y1="520.88" x2="329.70" y2="520.88" stroke-width="1.7" />
<text stroke="#000" stroke-width="0.22" transform="translate(324.70,524.33) scale(1.12,1)" x="0" y="0" font-size="9.7" text-anchor="end" font-weight="normal" >20</text>
<line x1="325.10" y1="530.80" x2="329.70" y2="530.80" stroke-width="1.7" />
<text stroke="#000" stroke-width="0.22" transform="translate(324.70,534.25) scale(1.12,1)" x="0" y="0" font-size="9.7" text-anchor="end" font-weight="normal" >0</text>
<line x1="328.90" y1="530.80" x2="514.30" y2="530.80" stroke-width="2.0" />
<line x1="353.20" y1="530.80" x2="353.20" y2="535.60" stroke-width="1.7" />
<text stroke="#000" stroke-width="0.22" x="353.20" y="545.20" font-size="10.5" text-anchor="middle" font-weight="normal" >US</text>
<line x1="400.40" y1="530.80" x2="400.40" y2="535.60" stroke-width="1.7" />
<text stroke="#000" stroke-width="0.22" x="400.40" y="545.20" font-size="10.5" text-anchor="middle" font-weight="normal" >2.5</text>
<line x1="447.80" y1="530.80" x2="447.80" y2="535.60" stroke-width="1.7" />
<text stroke="#000" stroke-width="0.22" x="447.80" y="545.20" font-size="10.5" text-anchor="middle" font-weight="normal" >5</text>
<line x1="495.10" y1="530.80" x2="495.10" y2="535.60" stroke-width="1.7" />
<text stroke="#000" stroke-width="0.22" x="495.10" y="545.20" font-size="10.5" text-anchor="middle" font-weight="normal" >10</text>
<text stroke="#000" stroke-width="0.22" x="419.05" y="558.90" font-size="9.4" text-anchor="middle" font-weight="normal" >WT1_HUMAN 356-364 (µg/ml)</text>
<text stroke="#000" stroke-width="0.22" class="rot" transform="translate(288.80,469.80) rotate(-90)" font-size="9.4" text-anchor="middle" dominant-baseline="central">IFN-<tspan font-style="italic">γ</tspan><tspan font-size="6.4" dy="-1.8" font-style="italic">pos</tspan><tspan dy="1.8"> cells / 10</tspan><tspan font-size="6.6" dy="-1.7">6</tspan><tspan dy="1.7"> PBMC</tspan></text>
<text stroke="#000" stroke-width="0.22" class="rot" transform="translate(261.80,469.70) rotate(-90)" font-size="9.4" text-anchor="middle" dominant-baseline="central">5 years after HSCT</text>
<line x1="447.80" y1="499.60" x2="447.80" y2="515.60" stroke-width="1.5" />
<line x1="444.30" y1="499.60" x2="451.30" y2="499.60" stroke-width="1.5" />
<line x1="444.30" y1="515.60" x2="451.30" y2="515.60" stroke-width="1.5" />
<line x1="495.10" y1="472.70" x2="495.10" y2="484.90" stroke-width="1.5" />
<line x1="491.60" y1="472.70" x2="498.60" y2="472.70" stroke-width="1.5" />
<line x1="491.60" y1="484.90" x2="498.60" y2="484.90" stroke-width="1.5" />
<polyline points="400.40,528.90 447.80,507.60 495.10,478.80" fill="none" stroke-width="2.0" stroke-linejoin="round"/>
<rect x="397.20" y="525.70" width="6.4" height="6.4" fill="#000" stroke="none"/>
<rect x="444.60" y="504.40" width="6.4" height="6.4" fill="#000" stroke="none"/>
<rect x="491.90" y="475.60" width="6.4" height="6.4" fill="#000" stroke="none"/>
<polyline points="400.40,454.10 447.80,440.60 495.10,409.10" fill="none" stroke-width="2.0" stroke-linejoin="round"/>
<circle cx="400.40" cy="454.10" r="2.95" fill="none" stroke="#000" stroke-width="1.45"/>
<circle cx="447.80" cy="440.60" r="2.95" fill="none" stroke="#000" stroke-width="1.45"/>
<circle cx="495.10" cy="409.10" r="2.95" fill="none" stroke="#000" stroke-width="1.45"/>
<polygon points="395.30,434.55 396.14,436.25 398.01,436.52 396.66,437.84 396.98,439.71 395.30,438.82 393.62,439.71 393.94,437.84 392.59,436.52 394.46,436.25" fill="#000" stroke="none"/>
<polygon points="401.30,434.55 402.14,436.25 404.01,436.52 402.66,437.84 402.98,439.71 401.30,438.82 399.62,439.71 399.94,437.84 398.59,436.52 400.46,436.25" fill="#000" stroke="none"/>
<polygon points="407.30,434.55 408.14,436.25 410.01,436.52 408.66,437.84 408.98,439.71 407.30,438.82 405.62,439.71 405.94,437.84 404.59,436.52 406.46,436.25" fill="#000" stroke="none"/>
<polygon points="439.20,421.15 440.04,422.85 441.91,423.12 440.56,424.44 440.88,426.31 439.20,425.43 437.52,426.31 437.84,424.44 436.49,423.12 438.36,422.85" fill="#000" stroke="none"/>
<polygon points="445.20,421.15 446.04,422.85 447.91,423.12 446.56,424.44 446.88,426.31 445.20,425.43 443.52,426.31 443.84,424.44 442.49,423.12 444.36,422.85" fill="#000" stroke="none"/>
<polygon points="451.20,421.15 452.04,422.85 453.91,423.12 452.56,424.44 452.88,426.31 451.20,425.43 449.52,426.31 449.84,424.44 448.49,423.12 450.36,422.85" fill="#000" stroke="none"/>
<polygon points="457.20,421.15 458.04,422.85 459.91,423.12 458.56,424.44 458.88,426.31 457.20,425.43 455.52,426.31 455.84,424.44 454.49,423.12 456.36,422.85" fill="#000" stroke="none"/>
<polygon points="486.90,392.55 487.74,394.25 489.61,394.52 488.26,395.84 488.58,397.71 486.90,396.82 485.22,397.71 485.54,395.84 484.19,394.52 486.06,394.25" fill="#000" stroke="none"/>
<polygon points="492.90,392.55 493.74,394.25 495.61,394.52 494.26,395.84 494.58,397.71 492.90,396.82 491.22,397.71 491.54,395.84 490.19,394.52 492.06,394.25" fill="#000" stroke="none"/>
<polygon points="498.90,392.55 499.74,394.25 501.61,394.52 500.26,395.84 500.58,397.71 498.90,396.82 497.22,397.71 497.54,395.84 496.19,394.52 498.06,394.25" fill="#000" stroke="none"/>
<polygon points="504.90,392.55 505.74,394.25 507.61,394.52 506.26,395.84 506.58,397.71 504.90,396.82 503.22,397.71 503.54,395.84 502.19,394.52 504.06,394.25" fill="#000" stroke="none"/>
<text stroke="#000" stroke-width="0.22" x="355.60" y="519.00" font-size="10" text-anchor="middle" font-weight="normal" >n.s.</text>
<rect x="350.10" y="525.90" width="6.6" height="6.6" fill="#000" stroke="none"/>
<circle cx="353.40" cy="530.90" r="2.9" fill="none" stroke="#000" stroke-width="1.6"/>
<line x1="353.40" y1="531.00" x2="353.40" y2="535.20" stroke-width="1.6" />
</svg>
</body></html>
